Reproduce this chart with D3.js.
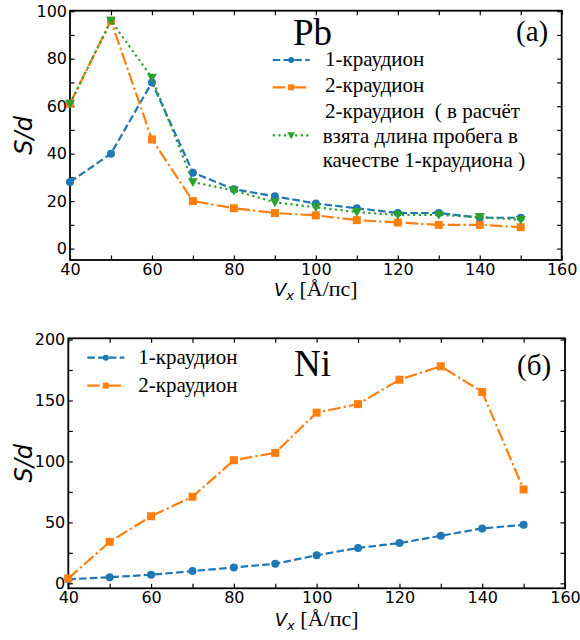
<!DOCTYPE html>
<html><head><meta charset="utf-8">
<script src="https://cdn.jsdelivr.net/npm/d3@7"></script>
<style>body{margin:0;background:#fff}</style>
</head><body><svg id="c" width="580" height="640"></svg>
<script>
const velocities = [40, 50, 60, 70, 80, 90, 100, 110, 120, 130, 140, 150];
const pbOne    = [28, 40, 70, 32, 25, 22, 19, 17, 15, 15, 13, 13];
const pbTwo    = [61, 96, 46, 20, 17, 15, 14, 12, 11, 10, 10, 9];
const pbTwoAlt = [61, 96, 72, 28, 24.5, 19.5, 17.4, 15.4, 14.2, 14.2, 13.3, 12.1];
const niOne    = [3.3, 5, 7, 10, 13, 16, 23, 29, 33, 39, 45, 48];
const niTwo    = [4, 34, 55, 71, 101, 107, 140, 147, 167, 178, 157, 77];
const xTickLabels = [40, 60, 80, 100, 120, 140, 160];
const xMinorTicks = [40, 50, 60, 70, 80, 90, 100, 110, 120, 130, 140, 150, 160];
const pbYTickLabels = [0, 20, 40, 60, 80, 100];
const pbYMinorTicks = [0, 10, 20, 30, 40, 50, 60, 70, 80, 90, 100];
const niYTickLabels = [0, 50, 100, 150, 200];
const niYMinorTicks = [0, 25, 50, 75, 100, 125, 150, 175, 200];
const labelOne = "1-краудион";
const labelTwo = "2-краудион";
const labelAlt = ["2-краудион  ( в расчёт", "взята длина пробега в", "качестве 1-краудиона )"];

const svg = d3.select("#c");
const C = {blue: "#1f77b4", orange: "#ff7f0e", green: "#2ca02c"};
const styles = {
  one: {color: C.blue, dash: "7.5,3.3", marker: "circle"},
  two: {color: C.orange, dash: "12.5,3.2,2.2,3.2", marker: "square"},
  alt: {color: C.green, dash: "2.2,3.4", marker: "tri"}
};

function marker(g, type, x, y, s, color) {
  if (type === "circle") {
    g.append("circle").attr("cx", x).attr("cy", y).attr("r", s / 2).attr("fill", color);
  } else if (type === "square") {
    g.append("rect").attr("x", x - s / 2).attr("y", y - s / 2).attr("width", s).attr("height", s).attr("fill", color);
  } else {
    const h = s * 0.55;
    g.append("path").attr("d", `M${x - h},${y - h * 0.8}L${x + h},${y - h * 0.8}L${x},${y + h}Z`).attr("fill", color);
  }
}

function panel(opt) {
  const {left, right, top, bottom, yDomain, yLabels, yMinor, series, name, tag, xLabelY} = opt;
  const x = d3.scaleLinear().domain([40, 160]).range([left, right]);
  const y = d3.scaleLinear().domain(yDomain).range([bottom, top]);
  const g = svg.append("g");
  const tickFont = g => g.selectAll("text").attr("font-family", "DejaVu Sans").attr("font-size", 16).attr("fill", "#000");

  const ax = g.append("g").attr("transform", `translate(0,${bottom})`)
    .call(d3.axisBottom(x).tickValues(xMinor).tickSizeInner(-4.5).tickSizeOuter(0).tickPadding(3.5)
      .tickFormat(d => xTickLabels.includes(d) ? d : ""));
  ax.call(tickFont);
  g.append("g").attr("transform", `translate(0,${top})`)
    .call(d3.axisTop(x).tickValues(xMinor).tickSizeInner(-4.5).tickSizeOuter(0).tickFormat(""));
  const ay = g.append("g").attr("transform", `translate(${left},0)`)
    .call(d3.axisLeft(y).tickValues(yMinor).tickSizeInner(-4.5).tickSizeOuter(0).tickPadding(3)
      .tickFormat(d => yLabels.includes(d) ? d : ""));
  ay.call(tickFont);
  g.append("g").attr("transform", `translate(${right},0)`)
    .call(d3.axisRight(y).tickValues(yMinor).tickSizeInner(-4.5).tickSizeOuter(0).tickFormat(""));
  g.selectAll(".domain").remove();
  g.selectAll(".tick line").attr("stroke", "#000").attr("stroke-width", 1.2);
  g.append("rect").attr("x", left).attr("y", top).attr("width", right - left).attr("height", bottom - top)
    .attr("fill", "none").attr("stroke", "#000").attr("stroke-width", 1.8);

  const line = d3.line().x((d, i) => x(velocities[i])).y(d => y(d));
  series.forEach(s => {
    const st = styles[s.style];
    g.append("path").datum(s.values).attr("d", line).attr("fill", "none")
      .attr("stroke", st.color).attr("stroke-width", 2.2).attr("stroke-dasharray", st.dash);
    s.values.forEach((v, i) => marker(g, st.marker, x(velocities[i]), y(v), st.marker === "tri" ? 9 : 8, st.color));
  });

  // labels
  g.append("text").attr("transform", `translate(32,${(top + bottom) / 2}) rotate(-90)`)
    .attr("text-anchor", "middle").attr("font-family", "DejaVu Sans").attr("font-style", "italic")
    .attr("font-size", 24).text("S/d");
  const xl = g.append("text").attr("x", (left + right) / 2).attr("y", xLabelY).attr("text-anchor", "middle");
  xl.append("tspan").attr("font-family", "DejaVu Sans").attr("font-style", "italic").attr("font-size", 18).text("V");
  xl.append("tspan").attr("font-family", "DejaVu Sans").attr("font-style", "italic").attr("font-size", 13).attr("dy", 4).text("x");
  xl.append("tspan").attr("font-family", "Liberation Serif").attr("font-size", 22).attr("dy", -4).style("white-space", "pre").text(" [Å/пс]");

  g.append("text").attr("x", opt.nameX).attr("y", opt.nameY).attr("font-family", "Liberation Serif").attr("font-size", 37).text(name);
  g.append("text").attr("x", opt.tagX).attr("y", opt.tagY).attr("font-family", "Liberation Serif").attr("font-size", 29).text(tag);

  // legend
  opt.legend.forEach(it => {
    const st = styles[it.style];
    g.append("line").attr("x1", it.lx).attr("x2", it.lx + 37).attr("y1", it.ly).attr("y2", it.ly)
      .attr("stroke", st.color).attr("stroke-width", 2.2).attr("stroke-dasharray", st.dash);
    marker(g, st.marker, it.lx + 18.5, it.ly, st.marker === "tri" ? 7 : 6, st.color);
    it.lines.forEach((t, k) => {
      g.append("text").attr("x", it.tx[k]).attr("y", it.ty[k]).attr("font-family", "Liberation Serif")
        .attr("font-size", 21).style("white-space", "pre").text(t);
    });
  });
}

panel({
  left: 70, right: 561.7, top: 10.7, bottom: 260, yDomain: [-4.8, 100.2],
  yLabels: pbYTickLabels, yMinor: pbYMinorTicks, xLabelY: 296,
  series: [{values: pbOne, style: "one"}, {values: pbTwo, style: "two"}, {values: pbTwoAlt, style: "alt"}],
  name: "Pb", nameX: 293, nameY: 45, tag: "(a)", tagX: 516, tagY: 41,
  legend: [
    {style: "one", lx: 272.7, ly: 60, lines: [labelOne], tx: [325], ty: [66]},
    {style: "two", lx: 272.7, ly: 87.3, lines: [labelTwo], tx: [325], ty: [92]},
    {style: "alt", lx: 272.7, ly: 135.3, lines: labelAlt, tx: [325, 322.7, 322.7], ty: [118, 143, 167]}
  ]
});
var xMinor = xMinorTicks;
panel({
  left: 68.3, right: 565, top: 338.3, bottom: 588.3, yDomain: [-4.1, 201],
  yLabels: niYTickLabels, yMinor: niYMinorTicks, xLabelY: 626,
  series: [{values: niOne, style: "one"}, {values: niTwo, style: "two"}],
  name: "Ni", nameX: 294, nameY: 376, tag: "(б)", tagX: 517, tagY: 375,
  legend: [
    {style: "one", lx: 87.3, ly: 357.7, lines: [labelOne], tx: [138.3], ty: [364]},
    {style: "two", lx: 87.3, ly: 385.7, lines: [labelTwo], tx: [138.3], ty: [392]}
  ]
});
</script></body></html>
